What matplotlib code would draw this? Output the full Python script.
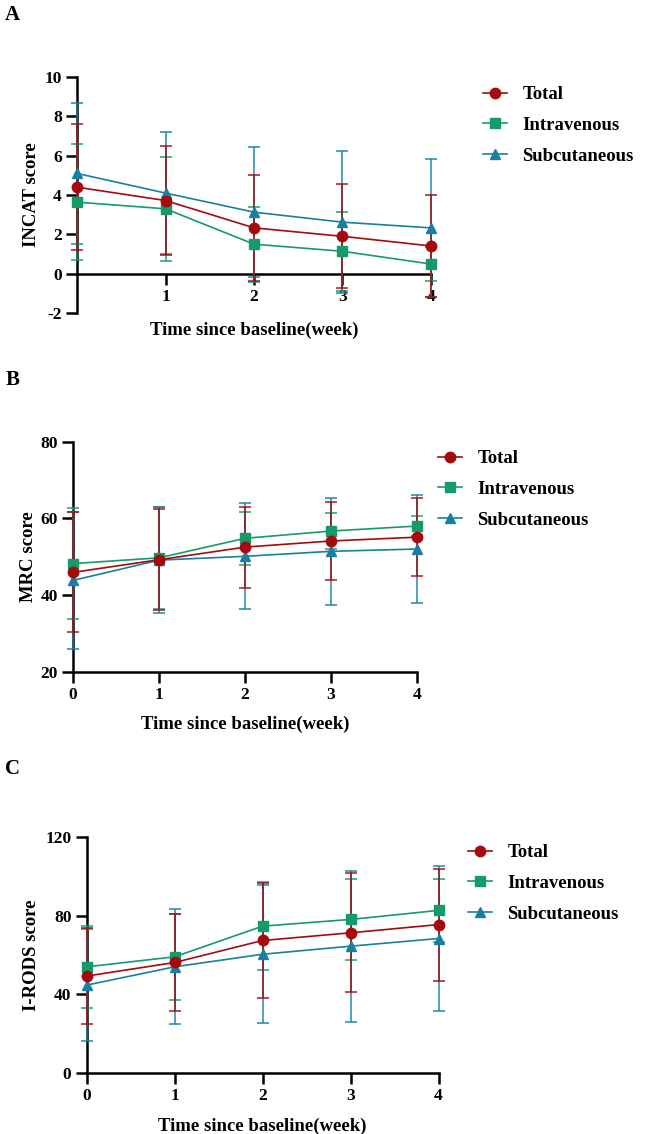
import matplotlib
matplotlib.use("Agg")
import matplotlib.pyplot as plt
from matplotlib.lines import Line2D

plt.rcParams["font.family"] = ["Liberation Serif", "DejaVu Serif"]
plt.rcParams["font.weight"] = "bold"
plt.rcParams["axes.labelweight"] = "bold"
plt.rcParams["axes.unicode_minus"] = False

WEEKS = [0, 1, 2, 3, 4]
GROUPS = ["Total", "Intravenous", "Subcutaneous"]

# INCAT score (mean, SD)
INCAT_TOTAL = [4.4, 3.72, 2.33, 1.9, 1.41]
INCAT_TOTAL_SD = [3.2, 2.75, 2.7, 2.65, 2.6]
INCAT_IV = [3.64, 3.3, 1.5, 1.14, 0.49]
INCAT_IV_SD = [2.95, 2.65, 1.9, 2.0, 0.85]
INCAT_SC = [5.1, 4.1, 3.13, 2.62, 2.33]
INCAT_SC_SD = [3.6, 3.1, 3.3, 3.6, 3.5]

# MRC score
MRC_TOTAL = [45.9, 49.2, 52.5, 54.1, 55.1]
MRC_TOTAL_SD = [15.7, 13.2, 10.6, 10.3, 10.2]
MRC_IV = [48.2, 49.7, 54.8, 56.7, 58.0]
MRC_IV_SD = [14.5, 13.4, 6.9, 4.6, 2.6]
MRC_SC = [43.8, 49.1, 50.1, 51.4, 52.0]
MRC_SC_SD = [17.8, 13.9, 13.8, 14.0, 14.0]

# I-RODS score
IRODS_TOTAL = [49.2, 56.1, 67.3, 71.2, 75.4]
IRODS_TOTAL_SD = [24.2, 24.6, 29.2, 30.2, 28.5]
IRODS_IV = [53.9, 59.0, 74.6, 78.0, 82.6]
IRODS_IV_SD = [20.7, 22.0, 22.5, 20.7, 16.0]
IRODS_SC = [44.6, 53.9, 60.3, 64.4, 68.3]
IRODS_SC_SD = [28.3, 29.2, 35.2, 38.5, 37.0]

COLORS = {"Total": "#A50A0E", "Intravenous": "#159A6A", "Subcutaneous": "#17809F"}
MARKERS = {"Total": "o", "Intravenous": "s", "Subcutaneous": "^"}
MSIZE = {"Total": 7.5, "Intravenous": 6.5, "Subcutaneous": 7}

fig = plt.figure(figsize=(6.48, 11.34), dpi=100)


def draw_panel(rect, series, ylim, yticks, xticks, ylabel, letter, letter_y,
               legend_xy, xlabel_y, ylabel_x, zero_axis=False):
    ax = fig.add_axes(rect)
    # 绿、蓝先画，红色在最上层
    for name in ["Intravenous", "Subcutaneous", "Total"]:
        mean, sd = series[name]
        c = COLORS[name]
        ax.errorbar(WEEKS, mean, yerr=sd, color=c, ecolor=c, elinewidth=1.3,
                    capsize=4.5, capthick=1.3, lw=1.2, marker=MARKERS[name],
                    ms=MSIZE[name], mec=c, mfc=c, clip_on=False, zorder=3)
        for art in ax.containers[-1].lines[1] + ax.containers[-1].lines[2]:
            art.set_alpha(0.8)
            art.set_clip_on(False)
    ax.set_xlim(0, 4)
    ax.set_ylim(*ylim)
    ax.set_yticks(yticks)
    ax.set_xticks(xticks)
    for s in ["top", "right"]:
        ax.spines[s].set_visible(False)
    for s in ["left", "bottom"]:
        ax.spines[s].set_linewidth(1.8)
        ax.spines[s].set_zorder(2)
    if zero_axis:
        ax.spines["bottom"].set_position(("data", 0))
    ax.tick_params(direction="out", length=8, width=1.8, labelsize=12.5, pad=3)
    for lab in ax.get_xticklabels() + ax.get_yticklabels():
        lab.set_fontweight("bold")
    ax.set_xlabel("Time since baseline(week)", fontsize=13.5)
    ax.xaxis.set_label_coords(0.5, xlabel_y)
    ax.set_ylabel(ylabel, fontsize=13.5)
    ax.yaxis.set_label_coords(ylabel_x, 0.5)
    fig.text(0.008, letter_y, letter, fontsize=15, fontweight="bold",
             ha="left", va="center")
    handles = [Line2D([], [], color=COLORS[g], marker=MARKERS[g],
                      ms=MSIZE[g], lw=1.2) for g in GROUPS]
    fig.legend(handles, GROUPS, loc="upper left", bbox_to_anchor=legend_xy,
               frameon=False, handlelength=1.3, labelspacing=0.73,
               borderpad=0, borderaxespad=0, handletextpad=0.8,
               prop={"weight": "bold", "size": 13.5})
    return ax


draw_panel([0.119, 0.724, 0.546, 0.208],
           {"Total": (INCAT_TOTAL, INCAT_TOTAL_SD),
            "Intravenous": (INCAT_IV, INCAT_IV_SD),
            "Subcutaneous": (INCAT_SC, INCAT_SC_SD)},
           (-2, 10), [-2, 0, 2, 4, 6, 8, 10], [1, 2, 3, 4], "INCAT score",
           "A", 1 - 15 / 1134, (483 / 648, 1 - 86 / 1134),
           xlabel_y=-0.035, ylabel_x=-0.105, zero_axis=True)

draw_panel([0.1127, 0.4078, 0.531, 0.2026],
           {"Total": (MRC_TOTAL, MRC_TOTAL_SD),
            "Intravenous": (MRC_IV, MRC_IV_SD),
            "Subcutaneous": (MRC_SC, MRC_SC_SD)},
           (20, 80), [20, 40, 60, 80], [0, 1, 2, 3, 4], "MRC score",
           "B", 1 - 380 / 1134, (438 / 648, 1 - 450 / 1134),
           xlabel_y=-0.19, ylabel_x=-0.105)

draw_panel([0.1338, 0.054, 0.543, 0.208],
           {"Total": (IRODS_TOTAL, IRODS_TOTAL_SD),
            "Intravenous": (IRODS_IV, IRODS_IV_SD),
            "Subcutaneous": (IRODS_SC, IRODS_SC_SD)},
           (0, 120), [0, 40, 80, 120], [0, 1, 2, 3, 4], "I-RODS score",
           "C", 1 - 769 / 1134, (468 / 648, 1 - 844 / 1134),
           xlabel_y=-0.19, ylabel_x=-0.134)

fig.savefig("out.png", dpi=100, facecolor="white")
